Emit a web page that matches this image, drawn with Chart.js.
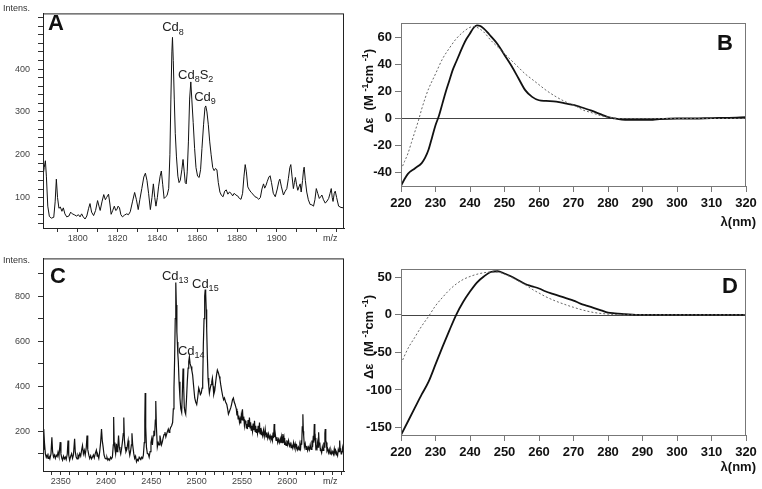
<!DOCTYPE html>
<html>
<head>
<meta charset="utf-8">
<script src="https://cdn.jsdelivr.net/npm/chart.js@4/dist/chart.umd.min.js"></script>
<style>
  html, body { margin: 0; padding: 0; background: #fff; }
  #wrap { position: relative; width: 762px; height: 489px; overflow: hidden; }
  canvas { position: absolute; }
</style>
</head>
<body>
<div id="wrap">
  <canvas id="chartA" width="360" height="245" style="left:0;top:0"></canvas>
  <canvas id="chartB" width="402" height="245" style="left:360px;top:0"></canvas>
  <canvas id="chartC" width="360" height="244" style="left:0;top:245px"></canvas>
  <canvas id="chartD" width="402" height="244" style="left:360px;top:245px"></canvas>
</div>
<script>
/* ================== DATA ================== */
// mass spectrum A: [m/z, intensity]
const spectrumA = [
  [1782.6,150],[1783.2,170],[1783.8,186],[1784.3,150],[1785.0,80],[1785.8,56],[1786.8,52],[1788.0,54],
  [1788.7,90],[1789.3,143],[1789.9,100],[1790.6,75],[1791.3,78],[1792.1,68],[1792.8,76],[1793.6,62],
  [1794.5,55],[1795.6,57],[1796.5,66],[1797.3,62],[1798.3,60],[1799.4,57],[1800.4,60],[1801.2,55],
  [1802.0,62],[1802.8,55],[1803.7,50],[1804.6,57],[1805.5,75],[1806.2,86],[1807.0,66],[1808.0,58],
  [1809.0,70],[1810.0,93],[1810.7,80],[1811.3,70],[1812.2,90],[1813.1,107],[1813.9,95],[1814.5,100],
  [1815.5,108],[1816.2,85],[1816.8,61],[1817.6,70],[1818.4,80],[1819.1,70],[1819.7,72],[1820.3,80],
  [1821.0,76],[1821.7,60],[1822.5,55],[1823.5,59],[1824.6,62],[1825.5,60],[1826.4,67],[1827.5,90],
  [1828.6,112],[1829.5,95],[1830.4,72],[1831.2,95],[1832.2,121],[1833.2,148],[1834.0,157],[1834.8,140],
  [1835.6,110],[1836.5,72],[1837.3,100],[1838.0,132],[1838.7,100],[1839.3,80],[1840.0,100],[1840.6,125],
  [1841.4,150],[1842.0,162],[1842.7,130],[1843.4,98],[1844.2,102],[1844.9,105],[1845.7,121],[1846.3,200],
  [1846.8,330],[1847.3,440],[1847.6,474],[1848.0,420],[1848.5,330],[1849.0,250],[1849.6,195],[1850.3,150],
  [1850.9,135],[1851.5,140],[1852.3,165],[1852.9,189],[1853.5,160],[1854.0,135],[1854.5,132],[1855.0,160],
  [1855.6,230],[1856.2,330],[1856.8,370],[1857.3,330],[1858.0,275],[1858.7,215],[1859.4,170],[1860.2,150],
  [1861.0,147],[1861.7,165],[1862.4,215],[1863.2,270],[1863.9,310],[1864.3,314],[1864.9,300],[1865.6,270],
  [1866.3,230],[1867.0,200],[1867.8,170],[1868.5,163],[1869.2,168],[1869.9,165],[1870.6,135],[1871.4,113],
  [1872.2,105],[1873.0,102],[1873.8,115],[1874.6,118],[1875.4,108],[1876.2,113],[1877.0,110],[1877.8,104],
  [1878.6,110],[1879.4,106],[1880.3,104],[1881.2,98],[1882.0,96],[1882.8,110],[1883.5,150],[1884.1,177],
  [1884.7,160],[1885.4,125],[1886.2,118],[1887.1,112],[1888.0,108],[1889.0,102],[1890.0,100],[1890.9,96],
  [1891.7,100],[1892.5,120],[1893.3,132],[1893.9,122],[1894.5,128],[1895.2,138],[1896.0,148],[1896.6,151],
  [1897.3,135],[1898.2,110],[1899.2,102],[1900.2,120],[1901.0,138],[1901.5,143],[1902.3,125],[1903.3,106],
  [1904.2,115],[1905.0,121],[1905.8,145],[1906.5,170],[1907.0,177],[1907.6,150],[1908.3,121],[1908.8,135],
  [1909.3,147],[1909.9,130],[1910.5,117],[1911.1,125],[1911.7,132],[1912.2,113],[1912.9,140],[1913.4,165],
  [1913.7,171],[1914.3,140],[1915.0,113],[1915.8,95],[1916.7,84],[1917.6,83],[1918.4,80],[1919.1,95],
  [1919.8,121],[1920.5,110],[1921.3,98],[1922.0,102],[1922.6,106],[1923.4,95],[1924.3,87],[1925.2,92],
  [1926.0,98],[1926.7,110],[1927.3,121],[1927.8,100],[1928.2,91],[1928.8,110],[1929.3,115],[1930.0,100],
  [1931.0,80],[1932.2,77],[1933.5,76]
];

// mass spectrum C: [m/z, intensity]
const spectrumC = [
  [2330.4,120],[2331.2,210],[2332.0,150],[2333.0,100],[2334.0,85],[2335.0,95],[2336.0,80],[2337.0,90],
  [2338.0,78],[2339.2,100],[2340.2,174],[2341.0,110],[2342.0,86],[2343.0,95],[2344.0,80],[2345.0,94],
  [2346.0,88],[2347.0,108],[2348.0,90],[2349.4,152],[2350.2,100],[2351.2,80],[2352.0,72],[2353.0,90],
  [2354.0,78],[2355.0,86],[2356.0,75],[2357.2,100],[2358.0,159],[2358.8,95],[2359.8,72],[2361.0,90],
  [2362.0,101],[2363.0,80],[2364.0,95],[2365.3,167],[2366.0,110],[2367.0,86],[2368.0,78],[2369.0,95],
  [2370.0,85],[2371.0,101],[2372.0,90],[2373.2,120],[2374.0,137],[2375.0,100],[2376.0,116],[2377.0,95],
  [2378.2,130],[2379.0,181],[2379.8,120],[2381.0,94],[2382.0,80],[2383.0,92],[2384.0,78],[2385.0,86],
  [2386.0,95],[2387.0,82],[2388.0,100],[2389.3,116],[2390.2,90],[2391.0,94],[2392.0,80],[2393.0,110],
  [2394.0,150],[2395.0,210],[2395.8,160],[2396.8,130],[2397.8,95],[2399.0,80],[2400.0,78],[2401.0,85],
  [2402.0,72],[2403.0,78],[2404.0,72],[2405.0,85],[2406.0,78],[2407.0,86],[2408.0,140],[2408.4,264],
  [2409.0,150],[2409.8,123],[2410.6,100],[2411.5,145],[2412.2,110],[2413.0,130],[2413.8,181],[2414.6,130],
  [2415.3,116],[2416.2,100],[2417.0,120],[2418.0,150],[2419.0,190],[2419.6,261],[2420.3,160],[2421.0,130],
  [2422.0,110],[2423.0,120],[2424.4,159],[2425.2,120],[2426.2,94],[2427.0,110],[2428.0,140],[2428.6,191],
  [2429.4,140],[2430.6,101],[2431.6,80],[2432.6,90],[2433.6,65],[2434.6,75],[2435.6,70],[2436.6,85],
  [2437.4,80],[2438.4,75],[2439.4,85],[2440.4,80],[2441.2,94],[2442.2,150],[2442.8,250],[2443.2,370],
  [2443.8,220],[2444.6,130],[2445.6,101],[2446.6,100],[2447.6,85],[2448.6,110],[2449.6,150],[2450.4,167],
  [2451.2,140],[2452.0,180],[2452.8,203],[2453.6,180],[2454.4,250],[2454.9,334],[2455.6,220],[2456.6,130],
  [2457.6,150],[2458.6,140],[2459.5,181],[2460.4,160],[2461.2,140],[2462.1,152],[2463.0,170],[2464.0,185],
  [2465.0,196],[2466.0,175],[2466.9,188],[2467.8,200],[2468.7,210],[2469.6,195],[2470.4,205],[2471.3,217],
  [2472.4,225],[2473.5,239],[2474.3,300],[2475.0,392],[2475.7,520],[2476.4,700],[2477.0,860],[2477.6,760],
  [2478.2,640],[2478.7,596],[2479.3,540],[2479.8,509],[2480.6,420],[2481.6,348],[2482.5,300],[2483.5,283],
  [2484.3,380],[2485.0,479],[2485.7,400],[2486.4,305],[2487.2,285],[2487.9,276],[2488.8,340],[2489.7,421],
  [2490.6,480],[2491.3,510],[2492.0,530],[2492.8,500],[2493.8,487],[2494.7,470],[2495.6,450],[2496.7,400],
  [2497.9,348],[2499.0,330],[2500.1,319],[2501.2,350],[2502.3,392],[2503.2,380],[2504.1,363],[2505.1,370],
  [2506.0,392],[2506.7,420],[2507.4,581],[2508.2,700],[2508.9,800],[2509.5,829],[2510.0,810],[2510.6,740],
  [2511.1,654],[2511.8,540],[2512.6,436],[2513.4,400],[2514.1,370],[2515.0,390],[2515.9,407],[2516.7,420],
  [2517.4,436],[2518.2,400],[2518.9,363],[2520.0,380],[2521.1,421],[2522.0,450],[2522.9,472],[2524.0,460],
  [2525.1,443],[2525.8,430],[2526.6,407],[2527.7,380],[2528.8,356],[2529.8,340],[2530.7,348],[2532.0,330],
  [2533.3,319],[2534.2,300],[2535.1,276],[2536.4,290],[2537.7,305],[2538.6,320],[2539.6,340],[2540.6,348],
  [2541.5,330],[2542.5,319],[2543.8,300],[2544.5,270],[2545.1,290],[2545.8,255],[2546.5,270],[2547.3,240],
  [2548.0,254],[2548.7,235],[2549.3,270],[2550.0,250],[2550.6,298],[2551.3,250],[2552.0,265],[2552.8,225],
  [2553.5,247],[2554.4,240],[2554.9,215],[2555.4,232],[2556.1,210],[2556.8,250],[2557.6,220],[2558.3,261],
  [2559.0,215],[2559.6,240],[2560.3,205],[2560.9,225],[2561.7,200],[2562.4,235],[2563.2,205],[2563.9,247],
  [2564.6,200],[2565.2,225],[2565.8,195],[2566.4,210],[2567.2,190],[2567.9,225],[2568.7,195],[2569.4,239],
  [2570.0,190],[2570.7,215],[2571.4,185],[2572.0,196],[2572.9,180],[2573.8,205],[2574.7,178],[2575.7,210],
  [2576.6,175],[2577.5,195],[2578.5,170],[2579.4,188],[2580.3,168],[2581.2,180],[2582.1,162],[2583.0,174],
  [2583.7,160],[2584.4,195],[2585.0,170],[2585.6,232],[2586.2,175],[2586.8,190],[2587.7,160],[2588.6,174],
  [2589.5,150],[2590.4,165],[2591.3,150],[2592.3,167],[2593.0,148],[2593.8,175],[2594.5,150],[2595.2,188],
  [2595.9,150],[2596.5,170],[2597.2,140],[2597.8,152],[2598.7,138],[2599.6,160],[2600.5,140],[2601.5,159],
  [2602.5,135],[2603.4,145],[2604.3,128],[2605.2,137],[2606.1,125],[2607.0,150],[2607.9,128],[2608.8,145],
  [2609.7,122],[2610.6,135],[2611.5,118],[2612.5,130],[2613.2,118],[2614.0,140],[2614.8,125],[2615.5,160],
  [2616.0,140],[2616.6,220],[2617.3,276],[2617.8,200],[2618.2,180],[2619.0,130],[2619.9,145],[2620.8,120],
  [2621.7,135],[2622.6,115],[2623.6,130],[2624.5,118],[2625.4,140],[2626.3,120],[2627.3,159],[2628.0,130],
  [2628.8,180],[2629.3,150],[2629.9,232],[2630.5,160],[2631.0,170],[2631.6,125],[2632.1,130],[2632.8,115],
  [2633.4,150],[2634.1,130],[2634.7,196],[2635.3,140],[2636.0,150],[2636.6,115],[2637.2,116],[2638.0,105],
  [2638.8,130],[2639.6,115],[2640.4,150],[2641.0,130],[2641.6,190],[2642.0,210],[2642.6,160],[2643.2,150],
  [2643.9,115],[2644.6,123],[2645.5,105],[2646.4,120],[2647.3,100],[2648.3,116],[2649.2,100],[2650.2,110],
  [2651.1,98],[2652.0,123],[2652.7,105],[2653.4,115],[2654.2,95],[2654.9,101],[2655.6,92],[2656.4,120],
  [2657.2,110],[2657.9,159],[2658.5,120],[2659.0,125],[2659.6,100],[2660.1,101],[2660.7,110],[2661.2,125],
  [2661.8,115],[2662.3,145],[2662.7,130]
];

// CD spectrum B: [wavelength nm, delta epsilon]
const cdBSolid = [
  [220,-50],[221,-45],[222,-41],[224,-37],[226,-33],[227,-29],[228,-23],[229,-14],[230,-5],[231,2],
  [232,11],[233,20],[234,28],[235,36],[236,42],[237,48],[238,54],[239,59],[240,63],[241,67],[242,69],
  [243,68.5],[244,66.5],[245,64],[246,61],[248,55],[250,47],[252,39],[254,30],[256,21],[258,16],
  [260,13.5],[262,13],[265,12.5],[268,11],[270,10],[272,8.5],[275,6],[278,3],[280,1],[282,0],
  [285,-1],[290,-1],[293,-1],[295,-0.5],[300,0],[305,0],[310,0.3],[315,0.5],[320,1]
];
const cdBDashed = [
  [220,-38],[221,-32],[222,-26],[223,-18],[224,-10],[225,-2],[226,7],[227,15],[228,22],[230,33],
  [232,44],[234,52],[236,59],[238,64],[240,67.5],[241,68],[242,67.5],[244,64],[246,58],[248,53],
  [250,48],[252,43],[254,38],[256,33],[258,29],[260,25],[262,21],[265,16],[268,12],[270,10],
  [273,6],[275,4.5],[278,2],[280,1],[283,0],[290,0],[300,0],[310,0],[320,0]
];

// CD spectrum D
const cdDSolid = [
  [220,-160],[222,-142],[224,-124],[226,-106],[228,-89],[230,-66],[232,-43],[234,-21],[236,0],
  [238,17],[240,31],[242,43],[244,51],[246,57],[248,58],[250,55],[252,51],[254,46],[256,41],
  [258,38],[260,35],[262,31],[264,28],[266,25],[268,22],[270,19],[272,15],[274,12],[276,9],
  [278,6],[280,3],[282,2],[285,1],[288,0],[295,0],[300,0],[310,0],[320,0]
];
const cdDDashed = [
  [220,-65],[222,-45],[224,-30],[226,-15],[228,-2],[230,12],[232,23],[234,33],[236,41],[238,47],
  [240,51],[242,54],[244,56],[246,57],[248,57],[250,54],[252,50],[254,45],[256,40],[258,34],
  [260,29],[262,24],[265,18],[268,13],[270,10],[273,6],[276,3],[280,1],[285,0],[320,0]
];

// tick values
const ticksAX = [1790,1800,1810,1820,1830,1840,1850,1860,1870,1880,1890,1900,1910,1920,1930];
const labelsAX = [1800,1820,1840,1860,1880,1900];
const ticksAY = [40,60,80,100,120,140,160,180,200,220,240,260,280,300,320,340,360,380,400,420,440,460,480,500,520];
const labelsAY = [100,200,300,400];
const ticksCX = [2340,2350,2360,2370,2380,2390,2400,2410,2420,2430,2440,2450,2460,2470,2480,2490,2500,
  2510,2520,2530,2540,2550,2560,2570,2580,2590,2600,2610,2620,2630,2640,2650,2660];
const labelsCX = [2350,2400,2450,2500,2550,2600];
const ticksCY = [100,200,300,400,500,600,700,800,900];
const labelsCY = [200,400,600,800];
const ticksCD_X = [220,230,240,250,260,270,280,290,300,310,320];
const ticksBY = [-40,-20,0,20,40,60];
const ticksDY = [-150,-100,-50,0,50];

// peak annotations: [label, subscript, afterText, afterSub, m/z, intensity]
const peaksA = [
  ['Cd', '8', '', '', 1842.4, 488],
  ['Cd', '8', 'S', '2', 1850.4, 378],
  ['Cd', '9', '', '', 1858.5, 325]
];
const peaksC = [
  ['Cd', '13', '', '', 2461.7, 871],
  ['Cd', '15', '', '', 2494.9, 836],
  ['Cd', '14', '', '', 2479.4, 539]
];

/* ================== HELPERS ================== */
const FONT = 'Arial, "Liberation Sans", sans-serif';
const toXY = arr => arr.map(p => ({ x: p[0], y: p[1] }));

// draws text parts; each part [text, 'n'|'sub'|'sup']
function drawParts(ctx, parts, x, y, size, weight) {
  let cx = x;
  parts.forEach(([t, kind]) => {
    const s = kind === 'n' ? size : Math.round(size * 0.68);
    ctx.font = `${weight} ${s}px ${FONT}`;
    const dy = kind === 'sub' ? size * 0.25 : kind === 'sup' ? -size * 0.38 : 0;
    ctx.fillText(t, cx, y + dy);
    cx += ctx.measureText(t).width;
  });
  return cx - x;
}
function partsWidth(ctx, parts, size, weight) {
  let w = 0;
  parts.forEach(([t, kind]) => {
    const s = kind === 'n' ? size : Math.round(size * 0.68);
    ctx.font = `${weight} ${s}px ${FONT}`;
    w += ctx.measureText(t).width;
  });
  return w;
}

function fixedTicks(values) {
  return scale => { scale.ticks = values.map(v => ({ value: v })); };
}

/* ================== MASS SPECTRUM PANELS ================== */
function massChart(id, data, xr, yr, tx, lx, ty, ly, peaks, letter, area) {
  const deco = {
    id: 'deco' + id,
    afterDraw(chart) {
      const { ctx, chartArea: a, scales } = chart;
      ctx.save();
      ctx.strokeStyle = '#222';
      ctx.lineWidth = 1;
      ctx.strokeRect(a.left + 0.5, a.top + 0.5, a.right - a.left - 1, a.bottom - a.top);
      ctx.fillStyle = '#333';
      ctx.textBaseline = 'alphabetic';
      ctx.font = `9px ${FONT}`;
      ctx.fillText('Intens.', 3, area.intensY);
      ctx.fillText('m/z', 323, a.bottom + 13);
      ctx.fillStyle = '#111';
      ctx.font = `bold 22px ${FONT}`;
      ctx.fillText(letter, area.letterX, area.letterY);
      ctx.fillStyle = '#222';
      peaks.forEach(p => {
        const px = scales.x.getPixelForValue(p[4]);
        const py = scales.y.getPixelForValue(p[5]);
        const parts = [[p[0], 'n'], [p[1], 'sub']];
        if (p[2]) parts.push([p[2], 'n'], [p[3], 'sub']);
        drawParts(ctx, parts, px, py, 13, 'normal');
      });
      ctx.restore();
    }
  };
  return new Chart(document.getElementById(id), {
    type: 'line',
    data: {
      datasets: [{
        data: toXY(data),
        borderColor: '#111',
        borderWidth: area.lw,
        pointRadius: 0,
        tension: 0,
        fill: false
      }]
    },
    options: {
      responsive: false,
      animation: false,
      layout: { padding: { top: area.top, right: area.right, left: 0, bottom: 0 } },
      plugins: { legend: { display: false }, tooltip: { enabled: false } },
      scales: {
        x: {
          type: 'linear', min: xr[0], max: xr[1],
          afterBuildTicks: fixedTicks(tx),
          afterFit: s => { s.height = area.xh; },
          grid: { drawOnChartArea: false, drawTicks: true, tickLength: 4, color: '#333' },
          border: { display: true, color: '#222' },
          ticks: {
            autoSkip: false, maxRotation: 0, padding: 1,
            color: '#444', font: { family: FONT, size: 9 },
            callback: v => (lx.includes(v) ? String(v) : '')
          }
        },
        y: {
          type: 'linear', min: yr[0], max: yr[1],
          afterBuildTicks: fixedTicks(ty),
          afterFit: s => { s.width = 43; },
          grid: { drawOnChartArea: false, drawTicks: true, tickLength: 5, color: '#333' },
          border: { display: true, color: '#222' },
          ticks: {
            autoSkip: false, padding: 8,
            color: '#444', font: { family: FONT, size: 9 },
            callback: v => (ly.includes(v) ? String(v) : '')
          }
        }
      }
    },
    plugins: [deco]
  });
}

/* ================== CD PANELS ================== */
function cdChart(id, solid, dashed, yr, ty, letter, area) {
  const deco = {
    id: 'deco' + id,
    beforeDatasetsDraw(chart) {
      const { ctx, chartArea: a, scales } = chart;
      const y0 = Math.round(scales.y.getPixelForValue(0)) + 0.5;
      ctx.save();
      ctx.strokeStyle = '#444';
      ctx.lineWidth = 1;
      ctx.beginPath();
      ctx.moveTo(a.left, y0);
      ctx.lineTo(a.right, y0);
      ctx.stroke();
      ctx.restore();
    },
    afterDraw(chart) {
      const { ctx, chartArea: a } = chart;
      ctx.save();
      ctx.strokeStyle = '#777';
      ctx.lineWidth = 1;
      ctx.strokeRect(a.left + 0.5, a.top + 0.5, a.right - a.left - 1, a.bottom - a.top);
      ctx.fillStyle = '#111';
      ctx.font = `bold 22px ${FONT}`;
      ctx.fillText(letter, area.letterX, area.letterY);
      // x title
      ctx.font = `bold 13px ${FONT}`;
      ctx.textAlign = 'right';
      ctx.fillText('\u03bb(nm)', 396, area.lambdaY);
      ctx.textAlign = 'left';
      // y title, rotated
      const parts = [['\u0394\u03b5  (M ', 'n'], ['-1', 'sup'], ['cm ', 'n'], ['-1', 'sup'], [')', 'n']];
      const w = partsWidth(ctx, parts, 13, 'bold');
      ctx.translate(13, area.titleY);
      ctx.rotate(-Math.PI / 2);
      drawParts(ctx, parts, -w / 2, 0, 13, 'bold');
      ctx.restore();
    }
  };
  return new Chart(document.getElementById(id), {
    type: 'line',
    data: {
      datasets: [
        {
          data: toXY(dashed),
          borderColor: '#666',
          borderWidth: 1,
          borderDash: [2, 2],
          pointRadius: 0,
          cubicInterpolationMode: 'monotone',
          fill: false
        },
        {
          data: toXY(solid),
          borderColor: '#111',
          borderWidth: 1.8,
          pointRadius: 0,
          cubicInterpolationMode: 'monotone',
          fill: false
        }
      ]
    },
    options: {
      responsive: false,
      animation: false,
      layout: { padding: { top: area.top, right: 16, left: 0, bottom: 0 } },
      plugins: { legend: { display: false }, tooltip: { enabled: false } },
      scales: {
        x: {
          type: 'linear', min: 220, max: 320,
          afterBuildTicks: fixedTicks(ticksCD_X),
          afterFit: s => { s.height = area.xh; },
          grid: { drawOnChartArea: false, drawTicks: true, tickLength: 6, color: '#777' },
          border: { display: true, color: '#777' },
          ticks: {
            autoSkip: false, maxRotation: 0, padding: 4,
            color: '#111', font: { family: FONT, size: 13, weight: 'bold' }
          }
        },
        y: {
          type: 'linear', min: yr[0], max: yr[1],
          afterBuildTicks: fixedTicks(ty),
          afterFit: s => { s.width = 41; },
          grid: { drawOnChartArea: false, drawTicks: true, tickLength: 6, color: '#777' },
          border: { display: true, color: '#777' },
          ticks: {
            autoSkip: false, padding: 3,
            color: '#111', font: { family: FONT, size: 13, weight: 'bold' }
          }
        }
      }
    },
    plugins: [deco]
  });
}

massChart('chartA', spectrumA, [1782.6, 1933.7], [29, 530], ticksAX, labelsAX, ticksAY, labelsAY, peaksA, 'A',
  { top: 4, right: 16, xh: 17, intensY: 11, letterX: 48, letterY: 30, lw: 1 });
massChart('chartC', spectrumC, [2330.4, 2662.7], [24, 967], ticksCX, labelsCX, ticksCY, labelsCY, peaksC, 'C',
  { top: 10, right: 16, xh: 18, intensY: 18, letterX: 50, letterY: 38, lw: 1.2 });
cdChart('chartB', cdBSolid, cdBDashed, [-50, 70.7], ticksBY, 'B',
  { top: 23, xh: 59, letterX: 357, letterY: 50, lambdaY: 226, titleY: 91 });
cdChart('chartD', cdDSolid, cdDDashed, [-160, 61], ticksDY, 'D',
  { top: 24, xh: 54, letterX: 362, letterY: 48, lambdaY: 226, titleY: 92 });
</script>
</body>
</html>
